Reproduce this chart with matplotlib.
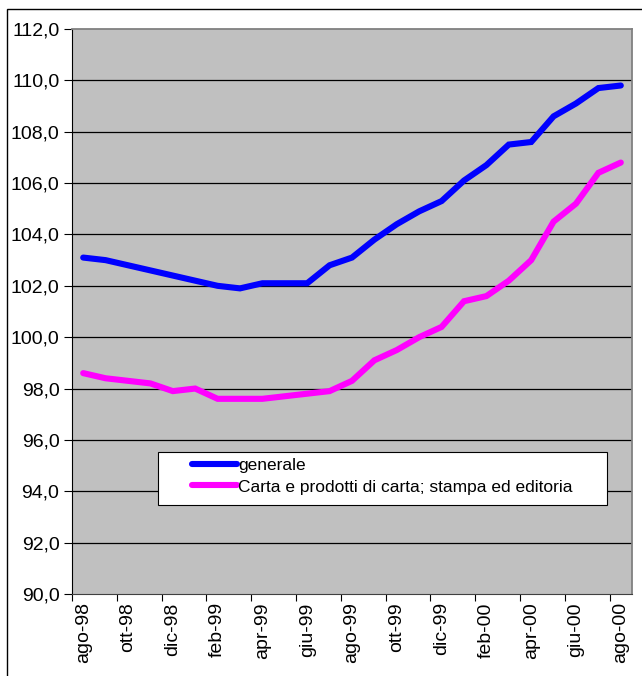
import numpy as np
import matplotlib
matplotlib.use("Agg")
import matplotlib.pyplot as plt
from matplotlib.patches import Rectangle

# mesi ago-98 .. ago-00
mesi = ["ago-98", "set-98", "ott-98", "nov-98", "dic-98", "gen-99", "feb-99",
        "mar-99", "apr-99", "mag-99", "giu-99", "lug-99", "ago-99", "set-99",
        "ott-99", "nov-99", "dic-99", "gen-00", "feb-00", "mar-00", "apr-00",
        "mag-00", "giu-00", "lug-00", "ago-00"]
generale = [103.1, 103.0, 102.8, 102.6, 102.4, 102.2, 102.0, 101.9, 102.1,
            102.1, 102.1, 102.8, 103.1, 103.8, 104.4, 104.9, 105.3, 106.1,
            106.7, 107.5, 107.6, 108.6, 109.1, 109.7, 109.8]
carta = [98.6, 98.4, 98.3, 98.2, 97.9, 98.0, 97.6, 97.6, 97.6, 97.7, 97.8,
         97.9, 98.3, 99.1, 99.5, 100.0, 100.4, 101.4, 101.6, 102.2, 103.0,
         104.5, 105.2, 106.4, 106.8]
nomi = ["generale", "Carta e prodotti di carta; stampa ed editoria"]
y_ticks = [90, 92, 94, 96, 98, 100, 102, 104, 106, 108, 110, 112]

plt.rcParams['font.family'] = ['Liberation Sans', 'DejaVu Sans']

W, H = 642, 676
fig = plt.figure(figsize=(W / 100, H / 100), dpi=100)
ax = fig.add_axes([72 / W, 1 - 594 / H, (632 - 72) / W, (594 - 29) / H])
ax.set_facecolor("#c0c0c0")

# bordo esterno del grafico (solo sinistra e alto visibili)
fig.patches.append(Rectangle((7 / W, -0.05), 1.0, 1 - 9 / H + 0.05,
                             transform=fig.transFigure, fill=False,
                             edgecolor="black", lw=1))

x = np.arange(len(mesi))
l1, = ax.plot(x, generale, color="#0000ff", lw=4.4, solid_capstyle="round",
              solid_joinstyle="miter", zorder=3)
l2, = ax.plot(x, carta, color="#ff00ff", lw=4.4, solid_capstyle="round",
              solid_joinstyle="miter", zorder=3)

ax.set_xlim(-0.5, len(mesi) - 0.5)
ax.set_ylim(90, 112)
ax.set_yticks(y_ticks)
ax.set_yticklabels([f"{v:.1f}".replace(".", ",") for v in y_ticks], fontsize=14)
for v in y_ticks[1:-1]:
    ax.axhline(v, color="black", lw=0.9, zorder=1)

ax.set_xticks(x[::2])
ax.set_xticklabels(mesi[::2], rotation=90, fontsize=14, va="top")
ax.set_xticks(np.arange(-0.5, len(mesi) - 1, 2), minor=True)
ax.tick_params(axis="x", which="major", length=0, pad=6)
ax.tick_params(axis="x", which="minor", length=5, width=0.8)
ax.tick_params(axis="y", length=6, width=0.8, pad=3)

for s in ["top", "right"]:
    ax.spines[s].set_color("#808080")
    ax.spines[s].set_linewidth(1.3)
ax.spines["left"].set_color("black")
ax.spines["bottom"].set_color("#404040")

# legenda
fig.patches.append(Rectangle((158 / W, 1 - 505 / H), (607 - 158) / W, (505 - 452) / H,
                             transform=fig.transFigure, facecolor="white",
                             edgecolor="black", lw=0.8, zorder=5))
leg = fig.legend([l1, l2], nomi, loc="upper left",
                 bbox_to_anchor=(180 / W, 1 - 446 / H), frameon=False,
                 fontsize=12.5, handlelength=2.6, handletextpad=0.05,
                 labelspacing=0.35, borderpad=0.2)
leg.set_zorder(6)

fig.savefig("out.png", dpi=100)
